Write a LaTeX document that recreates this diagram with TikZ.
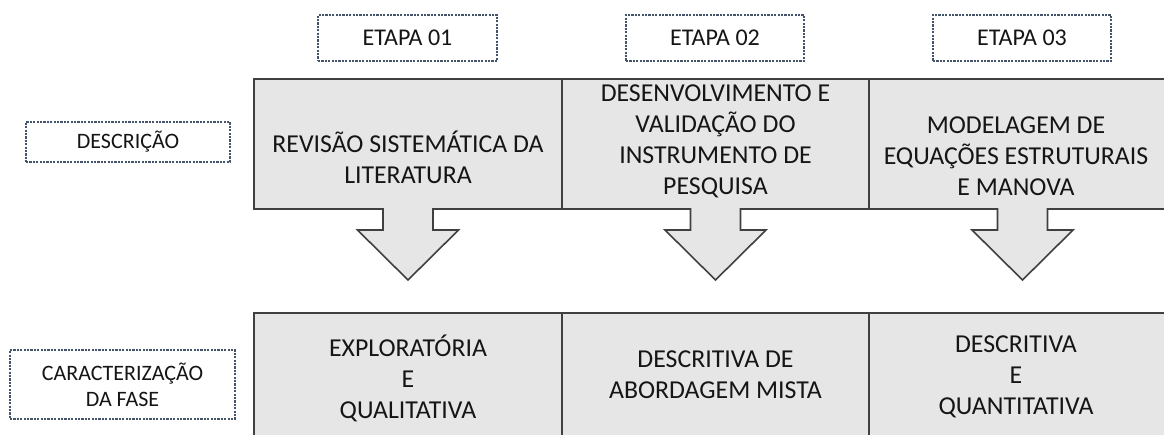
\documentclass[tikz,border=0pt]{standalone}
\usepackage{fontspec}
\setmainfont{Carlito}
\definecolor{boxfill}{HTML}{E6E6E6}
\definecolor{boxline}{HTML}{404040}
\definecolor{dashline}{HTML}{44546A}
\definecolor{txt}{HTML}{151515}
\tikzset{
  callout/.style={fill=boxfill, draw=boxline, line width=1.6pt, line join=miter},
  lbl/.style={draw=dashline, dash pattern=on 2.2pt off 1.2pt, line width=1.1pt, inner sep=0pt, align=center, text=txt},
  big/.style={align=center, text=txt, inner sep=0pt, font=\fontsize{25.8}{31}\selectfont},
}
\newcommand\mycallout[2]{%
  \pgfmathsetmacro\xc{(#1+#2)/2}%
  \filldraw[callout] (#1,79) -- (#2,79) -- (#2,209) -- (\xc+25,209) -- (\xc+25,230) -- (\xc+50.5,230) -- (\xc,280) -- (\xc-50.5,230) -- (\xc-25,230) -- (\xc-25,209) -- (#1,209) -- cycle;}
\begin{document}
\begin{tikzpicture}[x=1pt,y=-1pt]
\useasboundingbox (0,0) rectangle (1164,434);
\clip (0,0) rectangle (1164,434);
\fill[white] (0,0) rectangle (1164,434);
% top row callouts
\mycallout{254}{562}
\mycallout{562}{869}
\mycallout{869}{1176}
% bottom row
\filldraw[callout] (254,313) rectangle (562,450);
\filldraw[callout] (562,313) rectangle (869,450);
\filldraw[callout] (869,313) rectangle (1176,450);
% header labels
\node[lbl, minimum width=179pt, minimum height=46pt, font=\fontsize{24}{29}\selectfont] (e1) at (407.5,38) {ETAPA 01};
\node[lbl, minimum width=178pt, minimum height=46pt, font=\fontsize{24}{29}\selectfont] (e2) at (715,38) {ETAPA 02};
\node[lbl, minimum width=178pt, minimum height=46pt, font=\fontsize{24}{29}\selectfont] (e3) at (1022,38) {ETAPA 03};
\node[lbl, minimum width=204pt, minimum height=40pt, font=\fontsize{22}{26}\selectfont] (desc) at (128,142) {DESCRIÇÃO};
\node[lbl, minimum width=225pt, minimum height=69pt, font=\fontsize{22}{26}\selectfont] (carac) at (122.5,384.5) {CARACTERIZAÇÃO\\DA FASE};
% texts top
\node[big] (t1) at (408,157) {REVISÃO SISTEMÁTICA DA\\LITERATURA};
\node[big] (t2) at (715.5,141) {DESENVOLVIMENTO E\\VALIDAÇÃO DO\\INSTRUMENTO DE\\PESQUISA};
\node[big] (t3) at (1016,156) {MODELAGEM DE\\EQUAÇÕES ESTRUTURAIS\\E MANOVA};
% texts bottom
\node[big] (b1) at (408,378) {EXPLORATÓRIA\\E\\QUALITATIVA};
\node[big] (b2) at (715.5,375) {DESCRITIVA DE\\ABORDAGEM MISTA};
\node[big] (b3) at (1016,377) {DESCRITIVA\\E\\QUANTITATIVA};
\end{tikzpicture}
\end{document}
